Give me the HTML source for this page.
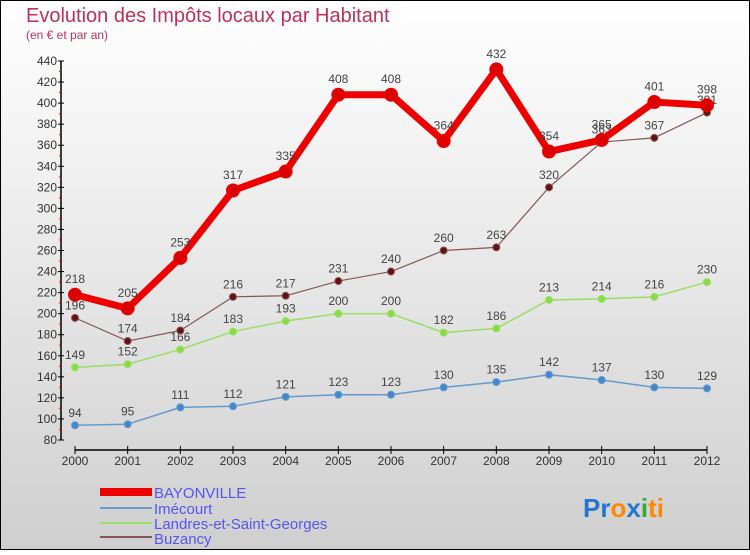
<!DOCTYPE html>
<html><head><meta charset="utf-8"><style>
body{margin:0;}
#c{width:750px;height:550px;position:relative;font-family:"Liberation Sans",sans-serif;}
</style></head><body>
<div id="c">
<svg id="s" width="750" height="550" xmlns="http://www.w3.org/2000/svg">
<defs><linearGradient id="bg" x1="0" y1="0" x2="0" y2="1"><stop offset="0" stop-color="#ffffff"/><stop offset="1" stop-color="#cfcfcf"/></linearGradient></defs>
<rect x="0.5" y="0.5" width="749" height="549" fill="url(#bg)" stroke="#000"/>
<text x="26" y="22" font-size="20" fill="#c0305a">Evolution des Impôts locaux par Habitant</text>
<text x="26" y="39" font-size="12" fill="#c0305a">(en € et par an)</text>
<g id="axes"></g><g id="series"></g>
<g>
<rect x="100" y="488" width="52" height="8" fill="#ee0000"/>
<text x="154" y="498" font-size="15" fill="#5555ee">BAYONVILLE</text>
<rect x="100" y="507" width="52" height="2" fill="#6699cc"/>
<text x="154" y="514" font-size="15" fill="#5555ee">Imécourt</text>
<rect x="100" y="522" width="52" height="2" fill="#99dd66"/>
<text x="154" y="529" font-size="15" fill="#5555ee">Landres-et-Saint-Georges</text>
<rect x="100" y="536" width="52" height="2" fill="#885555"/>
<text x="154" y="544" font-size="15" fill="#5555ee">Buzancy</text>
</g>
<text x="583" y="517" font-size="26" font-weight="bold"><tspan fill="#2277cc">Pr</tspan><tspan fill="#ff8800">o</tspan><tspan fill="#2277cc">x</tspan><tspan fill="#33aa33">i</tspan><tspan fill="#ff8800">ti</tspan></text>
</svg>
</div>
<script>
const years=["2000","2001","2002","2003","2004","2005","2006","2007","2008","2009","2010","2011","2012"];
const yTicks=[80,100,120,140,160,180,200,220,240,260,280,300,320,340,360,380,400,420,440];
const bayonville=[218,205,253,317,335,408,408,364,432,354,365,401,398];
const imecourt=[94,95,111,112,121,123,123,130,135,142,137,130,129];
const landres=[149,152,166,183,193,200,200,182,186,213,214,216,230];
const buzancy=[196,174,184,216,217,231,240,260,263,320,363,367,391];
const NS="http://www.w3.org/2000/svg";
function X(i){return 75+i*(707-75)/12;}
function Y(v){return 440-(v-80)*(440-61)/360;}
function mk(t,a,p){const e=document.createElementNS(NS,t);for(const k in a)e.setAttribute(k,a[k]);p.appendChild(e);return e;}
const ax=document.getElementById('axes');
let e=mk('line',{x1:61,y1:Y(440),x2:61,y2:Y(80),stroke:'#000','stroke-width':1.5},ax);


e=mk('line',{x1:75,y1:450,x2:707,y2:450,stroke:'#000','stroke-width':1.5},ax);


yTicks.forEach((v,i)=>{
 mk('line',{x1:58,y1:Y(v),x2:64,y2:Y(v),stroke:'#000'},ax);
 if(i<yTicks.length-1)mk('line',{x1:59,y1:Y(v+10),x2:62,y2:Y(v+10),stroke:'#e00'},ax);
 const t=mk('text',{x:57,y:Y(v)+4,'font-size':12,'text-anchor':'end',fill:'#333'},ax);t.textContent=v;
 
 
});
years.forEach((y,i)=>{
 mk('line',{x1:X(i),y1:446,x2:X(i),y2:454,stroke:'#000'},ax);
 const t=mk('text',{x:X(i),y:465,'font-size':12,'text-anchor':'middle',fill:'#333'},ax);t.textContent=y;
 
 
});
const sg=document.getElementById('series');
function draw(data,name,color,w,r,dot,fs){
 const g=mk('g',{},sg);
 
 
 const l=mk('polyline',{points:data.map((v,i)=>X(i)+','+Y(v)).join(' '),fill:'none',stroke:color,'stroke-width':w,'stroke-linejoin':'round'},g);
 
 
 data.forEach((v,i)=>{
  const c=mk('circle',{cx:X(i),cy:Y(v),r:r,fill:dot,stroke:color,'stroke-width':1},g);
  
  
  const t=mk('text',{x:X(i),y:Y(v)-r-5,'font-size':fs,'text-anchor':'middle',fill:'#444'},g);t.textContent=v;
  
  
 });
}
draw(imecourt,'imecourt','#6699cc',1.5,3.5,'#4488cc',12);
draw(landres,'landres','#99dd66',1.5,3.5,'#88dd44',12);
draw(buzancy,'buzancy','#885555',1.2,3.5,'#661111',12);
draw(bayonville,'bayonville','#ee0000',7,6.5,'#dd0000',12);
</script>
</body></html>
